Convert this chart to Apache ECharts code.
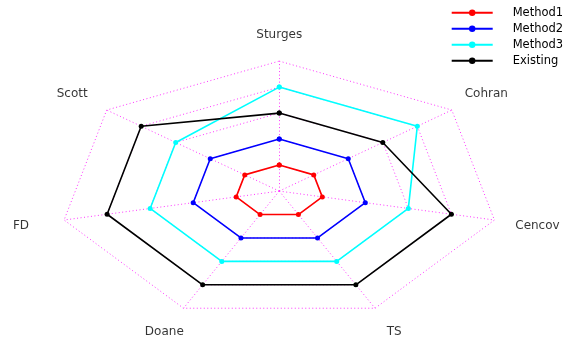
<!DOCTYPE html>
<html>
<head>
<meta charset="utf-8">
<script src="https://cdn.jsdelivr.net/npm/echarts@6/dist/echarts.min.js"></script>
<style>
html,body{margin:0;padding:0;background:#fff}
#chart{width:573px;height:337px}
</style>
</head>
<body>
<div id="chart"></div>
<script>
// Spokes of the radar, clockwise from the top
const categories = ['Sturges', 'Cohran', 'Cencov', 'TS', 'Doane', 'FD', 'Scott'];

// Scores per method on each spoke
const method1 = [1, 1, 1, 1, 1, 1, 1];
const method2 = [2, 2, 2, 2, 2, 2, 2];
const method3 = [4, 4, 3, 3, 3, 3, 3];
const existing = [3, 3, 4, 4, 4, 4, 4];

// Grid rings and where the spoke names sit
const ringLevels = [1, 2, 3, 4, 5];
const labelLevel = 6;

const n = categories.length;
function angle(i) { return Math.PI / 2 - i * 2 * Math.PI / n; }
function polar(v, i) { return [v * Math.cos(angle(i)), v * Math.sin(angle(i))]; }
function closedPolygon(values) {
  const pts = values.map((v, i) => polar(v, i));
  pts.push(pts[0]);
  return pts;
}

const gridColor = '#ff33ff';
const dotted = [1, 2.5];
const series = [];

// dotted heptagon rings
ringLevels.forEach(level => {
  series.push({
    type: 'line',
    silent: true,
    symbol: 'none',
    data: closedPolygon(categories.map(() => level)),
    lineStyle: { color: gridColor, width: 1, type: dotted },
    z: 1
  });
});

// dotted spokes from the centre to the outer ring
const outer = ringLevels[ringLevels.length - 1];
series.push({
  type: 'lines',
  coordinateSystem: 'cartesian2d',
  silent: true,
  data: categories.map((c, i) => ({ coords: [[0, 0], polar(outer, i)] })),
  lineStyle: { color: gridColor, width: 1, type: dotted, opacity: 1 },
  z: 1
});

// method polygons
const methods = [
  { name: 'Method1', values: method1, color: '#ff0000' },
  { name: 'Method2', values: method2, color: '#0000ff' },
  { name: 'Method3', values: method3, color: '#00ffff' },
  { name: 'Existing', values: existing, color: '#000000' }
];
methods.forEach(m => {
  series.push({
    name: m.name,
    type: 'line',
    data: closedPolygon(m.values),
    symbol: 'circle',
    symbolSize: 5,
    color: m.color,
    itemStyle: { color: m.color },
    lineStyle: { color: m.color, width: 1.6 },
    z: 3
  });
});

// spoke names
series.push({
  type: 'scatter',
  silent: true,
  symbolSize: 0,
  data: categories.map((c, i) => ({ name: c, value: polar(labelLevel, i) })),
  label: {
    show: true,
    position: 'inside',
    formatter: p => p.name,
    color: '#000',
    fontFamily: 'DejaVu Sans',
    fontSize: 12
  },
  z: 4
});

const chart = echarts.init(document.getElementById('chart'), null, { renderer: 'canvas' });
chart.setOption({
  animation: false,
  backgroundColor: '#ffffff',
  grid: { left: 14.4, top: 35.1, width: 529.7, height: 299, containLabel: false, outerBoundsMode: 'none' },
  xAxis: { type: 'value', min: -labelLevel, max: labelLevel, show: false },
  yAxis: { type: 'value', min: -5.5, max: labelLevel, show: false },
  legend: {
    orient: 'vertical',
    left: 450.7,
    top: 6.7,
    padding: 0,
    itemWidth: 41,
    itemHeight: 8,
    itemGap: 4,
    data: methods.map(m => m.name),
    textStyle: {
      color: '#000',
      fontFamily: 'DejaVu Sans',
      fontSize: 11.5,
      padding: [0, 0, 0, 15]
    }
  },
  series: series
});
</script>
</body>
</html>
